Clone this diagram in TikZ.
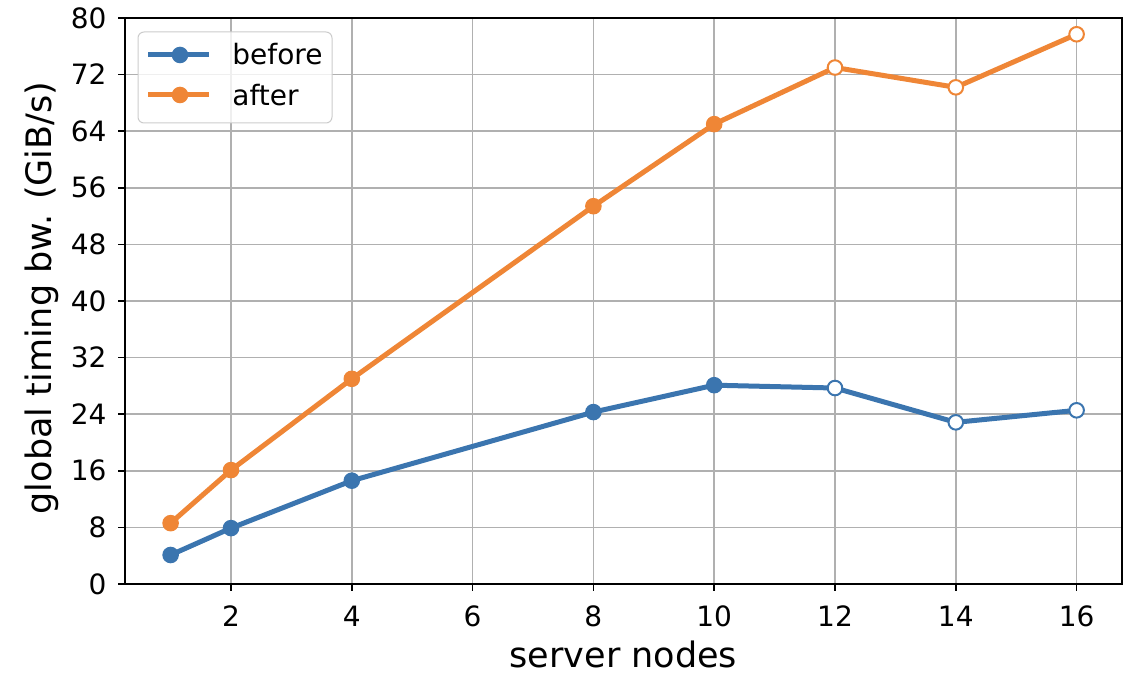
\documentclass[tikz,border=0pt]{standalone}
\usepackage{fontspec}
\setmainfont{DejaVu Sans}
\definecolor{beforeblue}{RGB}{59,117,175}
\definecolor{afterorange}{RGB}{239,134,54}
\definecolor{gridgray}{RGB}{176,176,176}
\definecolor{legendgray}{RGB}{204,204,204}
\begin{document}
\begin{tikzpicture}[x=0.5pt,y=0.5pt,
    gridline/.style={gridgray,line width=0.8pt},
    frame/.style={black,line width=1pt},
    tickmark/.style={black,line width=0.8pt},
    ticklabel/.style={inner sep=0pt,font=\fontsize{14}{16}\selectfont},
    series/.style={line width=2.5pt,line join=round},
    dot/.style={circle,fill=#1,inner sep=0pt,minimum size=8.3pt},
    hollow/.style={circle,draw=#1,fill=white,line width=1pt,inner sep=0pt,minimum size=7.3pt}]
  \useasboundingbox (0,0) rectangle (1135,676);

  \begin{scope}[xshift=55.1pt,yshift=46pt,x=30.2pt,y=3.5375pt]
    % GRID
    \foreach \gx in {2,4,...,16}
      \draw[gridline] (\gx,0) -- (\gx,80);
    \foreach \gy in {0,8,...,80}
      \draw[gridline] (0.25,\gy) -- (16.75,\gy);

    % FRAME AND TICKS
    \draw[frame] (0.25,0) rectangle (16.75,80);
    \foreach \gx in {2,4,...,16} {
      \draw[tickmark] (\gx,0) -- ++(0,-3.5pt);
      \node[ticklabel,anchor=base] (xt\gx) at ([yshift=-21pt]\gx,0) {\gx};
    }
    \foreach \gy in {0,8,...,80} {
      \draw[tickmark] (0.25,\gy) -- ++(-3.5pt,0);
      \node[ticklabel,anchor=east] (yt\gy) at ([xshift=-9.25pt]0.25,\gy) {\gy};
    }

    % DATA POINTS
    \foreach \n/\px/\pb/\pa in {1/1/4.1/8.6, 2/2/7.9/16.1, 3/4/14.6/29.0, 4/8/24.3/53.4,
                               5/10/28.1/65.0, 6/12/27.7/73.0, 7/14/22.85/70.2, 8/16/24.55/77.7} {
      \coordinate (b\n) at (\px,\pb);
      \coordinate (a\n) at (\px,\pa);
    }

    % BEFORE
    \draw[series,beforeblue] (b1) -- (b2) -- (b3) -- (b4) -- (b5) -- (b6) -- (b7) -- (b8);
    \foreach \n in {1,...,5}
      \node[dot=beforeblue] at (b\n) {};
    \foreach \n in {6,7,8}
      \node[hollow=beforeblue] at (b\n) {};

    % AFTER
    \draw[series,afterorange] (a1) -- (a2) -- (a3) -- (a4) -- (a5) -- (a6) -- (a7) -- (a8);
    \foreach \n in {1,...,5}
      \node[dot=afterorange] at (a\n) {};
    \foreach \n in {6,7,8}
      \node[hollow=afterorange] at (a\n) {};
  \end{scope}

  % AXIS LABELS
  \node[anchor=base,inner sep=0pt,font=\fontsize{17.5}{20}\selectfont] (xlabel) at (623.5,9) {server nodes};
  \node[anchor=base,rotate=90,inner sep=0pt,font=\fontsize{17.5}{20}\selectfont] (ylabel) at (51,378) {global timing bw. (GiB/s)};

  % LEGEND
  \draw[legendgray,line width=0.5pt,fill=white,fill opacity=0.8,rounded corners=3pt] (138,553) rectangle (332,644);
  \coordinate (lb1) at (148,621);
  \coordinate (lb2) at (209,621);
  \coordinate (la1) at (148,581);
  \coordinate (la2) at (209,581);
  \draw[series,beforeblue] (lb1) -- (lb2);
  \node[dot=beforeblue] (lbdot) at (180,621) {};
  \node[anchor=base west,inner sep=0pt,font=\fontsize{14}{16}\selectfont] (lbtext) at (232,611) {before};
  \draw[series,afterorange] (la1) -- (la2);
  \node[dot=afterorange] (ladot) at (180,581) {};
  \node[anchor=base west,inner sep=0pt,font=\fontsize{14}{16}\selectfont] (latext) at (232,570) {after};
\end{tikzpicture}
\end{document}
